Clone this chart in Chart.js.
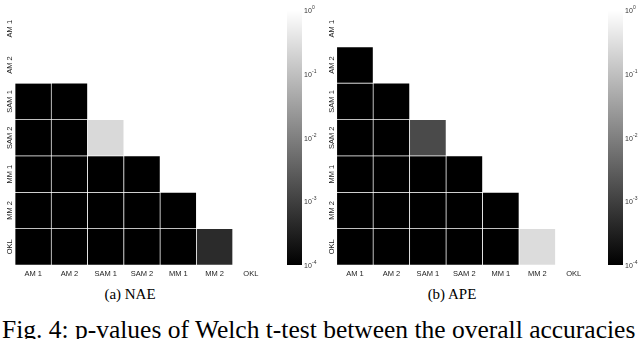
<!DOCTYPE html>
<html>
<head>
<meta charset="utf-8">
<script src="https://cdn.jsdelivr.net/npm/chart.js@4.4.1/dist/chart.umd.min.js"></script>
<style>
  body { margin: 0; background: #fff; width: 640px; height: 339px; overflow: hidden; position: relative; }
  .panel { position: absolute; top: 0; width: 320px; height: 280px; }
  .sub { position: absolute; top: 286px; font: 15px "Liberation Serif", serif; color: #000; transform: translateX(-50%); white-space: nowrap; }
  .fig { position: absolute; left: 2px; top: 315px; font: 25.5px "Liberation Serif", serif; color: #000; white-space: nowrap; }
</style>
</head>
<body>
<div class="panel" style="left:0"><canvas id="nae" width="320" height="280"></canvas></div>
<div class="panel" style="left:320px"><canvas id="ape" width="320" height="280"></canvas></div>
<div class="sub" style="left:130px">(a) NAE</div>
<div class="sub" style="left:452px">(b) APE</div>
<div class="fig">Fig. 4: p-values of Welch t-test between the overall accuracies</div>
<script>
// methods compared (rows and columns)
const methods = ['AM 1', 'AM 2', 'SAM 1', 'SAM 2', 'MM 1', 'MM 2', 'OKL'];

// p-values, lower triangle only (row i vs column j < i); black cells are below 1e-4
const naeP = [
  [],
  [1.0],
  [1e-5, 1e-5],
  [1e-5, 1e-5, 0.25],
  [1e-5, 1e-5, 1e-5, 1e-5],
  [1e-5, 1e-5, 1e-5, 1e-5, 1e-5],
  [1e-5, 1e-5, 1e-5, 1e-5, 1e-5, 4.7e-4]
];
const apeP = [
  [],
  [1e-5],
  [1e-5, 1e-5],
  [1e-5, 1e-5, 1.45e-3],
  [1e-5, 1e-5, 1e-5, 1e-5],
  [1e-5, 1e-5, 1e-5, 1e-5, 1e-5],
  [1e-5, 1e-5, 1e-5, 1e-5, 1e-5, 0.28]
];

// colorbar ticks
const cbTicks = [1, 1e-1, 1e-2, 1e-3, 1e-4];
const cbExp = ['0', '-1', '-2', '-3', '-4'];

// gray colormap on log10 scale 1e-4 .. 1
function gray(p) {
  let v = (Math.log10(p) + 4) / 4;
  v = Math.max(0, Math.min(1, v));
  const g = Math.round(v * 255);
  return 'rgb(' + g + ',' + g + ',' + g + ')';
}

const labelsPlugin = {
  id: 'extras',
  afterDraw(chart, args, opts) {
    const ctx = chart.ctx;
    const yS = chart.scales.y;
    const cb = chart.scales.cb;
    const area = chart.chartArea;

    // row labels, rotated
    ctx.save();
    ctx.fillStyle = '#222';
    ctx.font = '7.5px "Liberation Sans", Arial, sans-serif';
    ctx.textAlign = 'center';
    ctx.textBaseline = 'middle';
    methods.forEach((m, i) => {
      const y = yS.getPixelForValue(i + 0.5);
      ctx.save();
      ctx.translate(area.left - 5, y);
      ctx.rotate(-Math.PI / 2);
      ctx.fillText(m, 0, 0);
      ctx.restore();
    });
    ctx.restore();

    // colorbar
    const top = cb.getPixelForValue(1);
    const bot = cb.getPixelForValue(1e-4);
    const x0 = cb.left + opts.barOff;
    const grad = ctx.createLinearGradient(0, bot, 0, top);
    grad.addColorStop(0, '#000');
    grad.addColorStop(1, '#fff');
    ctx.fillStyle = grad;
    ctx.fillRect(x0, top, 15, bot - top);

    ctx.save();
    ctx.fillStyle = '#333';
    ctx.textBaseline = 'middle';
    ctx.textAlign = 'left';
    cbTicks.forEach((t, k) => {
      const y = cb.getPixelForValue(t);
      const lx = x0 + 17;
      ctx.font = '7px "Liberation Sans", Arial, sans-serif';
      ctx.fillText('10', lx, y + 1);
      const w = ctx.measureText('10').width;
      ctx.font = '5px "Liberation Sans", Arial, sans-serif';
      ctx.fillText(cbExp[k], lx + w + 0.3, y - 2.5);
    });
    ctx.restore();
  }
};

function makeHeatmap(id, rows, padLeft, cbWidth, barOff) {
  const datasets = [];
  for (let i = 1; i < methods.length; i++) {
    datasets.push({
      data: methods.map((m, j) => j < i ? [i, i + 1] : null),
      backgroundColor: methods.map((m, j) => j < i ? gray(rows[i][j]) : 'rgba(0,0,0,0)'),
      borderColor: '#fff',
      borderWidth: 0.7,
      borderSkipped: false,
      grouped: false,
      barPercentage: 1,
      categoryPercentage: 1
    });
  }
  new Chart(document.getElementById(id), {
    type: 'bar',
    data: { labels: methods, datasets: datasets },
    options: {
      responsive: false,
      animation: false,
      layout: { padding: { left: padLeft, top: 10.5, right: 0, bottom: 0 } },
      plugins: {
        legend: { display: false },
        tooltip: { enabled: false },
        extras: { barOff: barOff }
      },
      scales: {
        x: {
          type: 'category',
          grid: { display: false, drawTicks: false },
          border: { display: false },
          ticks: {
            color: '#222',
            font: { family: 'Liberation Sans', size: 7.5 },
            padding: 4,
            maxRotation: 0,
            autoSkip: false
          },
          afterFit: s => { s.height = 15; }
        },
        y: { type: 'linear', min: 0, max: 7, reverse: true, display: false },
        cb: {
          type: 'logarithmic',
          position: 'right',
          min: 1e-4,
          max: 1,
          grid: { display: false },
          border: { display: false },
          ticks: { display: false },
          afterFit: s => { s.width = cbWidth; }
        }
      }
    },
    plugins: [labelsPlugin]
  });
}

makeHeatmap('nae', naeP, 15, 51, 18);
makeHeatmap('ape', apeP, 16.7, 48, 16);
</script>
</body>
</html>
